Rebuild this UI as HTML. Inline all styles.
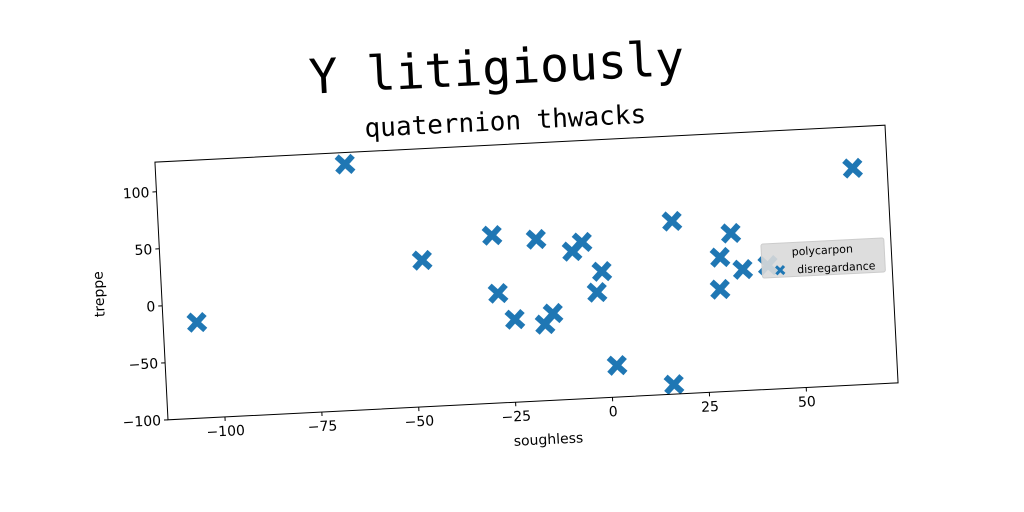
<!DOCTYPE html>
<html><head><meta charset="utf-8"><style>
html,body{margin:0;padding:0;background:#fff;width:1024px;height:512px;overflow:hidden}
text{font-family:"DejaVu Sans","Liberation Sans",sans-serif}
</style></head><body>
<svg id="fig" width="1024" height="512" viewBox="0 0 1024 512" xmlns="http://www.w3.org/2000/svg">
<g id="rot" transform="rotate(-2.9 526.5 272.5)">
<text x="507" y="83" text-anchor="middle" font-size="48" style="font-family:'DejaVu Sans Mono','Liberation Mono',monospace">Y litigiously</text>
<text x="513" y="129" text-anchor="middle" font-size="26" style="font-family:'DejaVu Sans Mono','Liberation Mono',monospace">quaternion thwacks</text>
<g id="plot"></g>
<text x="540" y="445" text-anchor="middle" font-size="14">soughless</text>
<text transform="translate(103 272.5) rotate(-90)" text-anchor="middle" font-size="14">treppe</text>
</g>
</svg>
<script>
const xs = [-106,-65.8,-47.2,-28.9,-28.1,-24.1,-17.6,-16.4,-14.2,-8.5,-5.8,-2.6,-1.1,1.6,17.6,16,29.5,29.1,32.6,35.2,41.7,64.8];
const ys = [-16,115.8,28.3,47,-4,-27.5,41.6,-33.2,-23.9,29.5,37,-7.5,10.6,-72.3,51.4,-91.5,17.7,-10.3,38.3,6.1,8.5,89.8];
const xTicks = [-100,-75,-50,-25,0,25,50];
const yTicks = [-100,-50,0,50,100];
const seriesName = "disregardance";
const legendTitle = "polycarpon";

const L=161,T=143.5,W=731,H=258,XMIN=-114.7,XMAX=73.7,YMIN=-100,YMAX=126;
const sx=v=>L+(v-XMIN)/(XMAX-XMIN)*W;
const sy=v=>T+(YMAX-v)/(YMAX-YMIN)*H;
const NS="http://www.w3.org/2000/svg";
const g=document.getElementById('plot');
function mk(tag,attrs,parent){const e=document.createElementNS(NS,tag);for(const k in attrs)e.setAttribute(k,attrs[k]);(parent||g).appendChild(e);return e;}
function cross(cx,cy,s,parent){const grp=mk('g',{},parent);
 mk('line',{x1:cx-s,y1:cy-s,x2:cx+s,y2:cy+s,stroke:'#1f77b4','stroke-width':s*0.75},grp);
 mk('line',{x1:cx-s,y1:cy+s,x2:cx+s,y2:cy-s,stroke:'#1f77b4','stroke-width':s*0.75},grp);return grp;}
xTicks.forEach(v=>{const x=sx(v);
 const t=mk('line',{x1:x,y1:T+H,x2:x,y2:T+H+4,stroke:'#000','stroke-width':1});
 
 
 const tx=mk('text',{x:x,y:T+H+19,'text-anchor':'middle','font-size':14});tx.textContent=(v<0?'\u2212'+(-v):v);
 
 });
yTicks.forEach(v=>{const y=sy(v);
 const t=mk('line',{x1:L-4,y1:y,x2:L,y2:y,stroke:'#000','stroke-width':1});
 
 
 const tx=mk('text',{x:L-7,y:y+5,'text-anchor':'end','font-size':14});tx.textContent=(v<0?'\u2212'+(-v):v);
 
 });
xs.forEach((v,i)=>{const c=cross(sx(v),sy(ys[i]),8);
 
 });
const fr=mk('rect',{x:L,y:T,width:W,height:H,fill:'none',stroke:'#000','stroke-width':1});


const lg=mk('g',{});


mk('rect',{x:762,y:256,width:123,height:34,fill:'#d9d9d9','fill-opacity':0.9,stroke:'#ccc',rx:2},lg);
const lt=mk('text',{x:823,y:269,'text-anchor':'middle','font-size':11},lg);lt.textContent=legendTitle;


const lm=cross(780,283,4,lg);


const le=mk('text',{x:797,y:287,'font-size':11},lg);le.textContent=seriesName;


</script>
</body></html>
